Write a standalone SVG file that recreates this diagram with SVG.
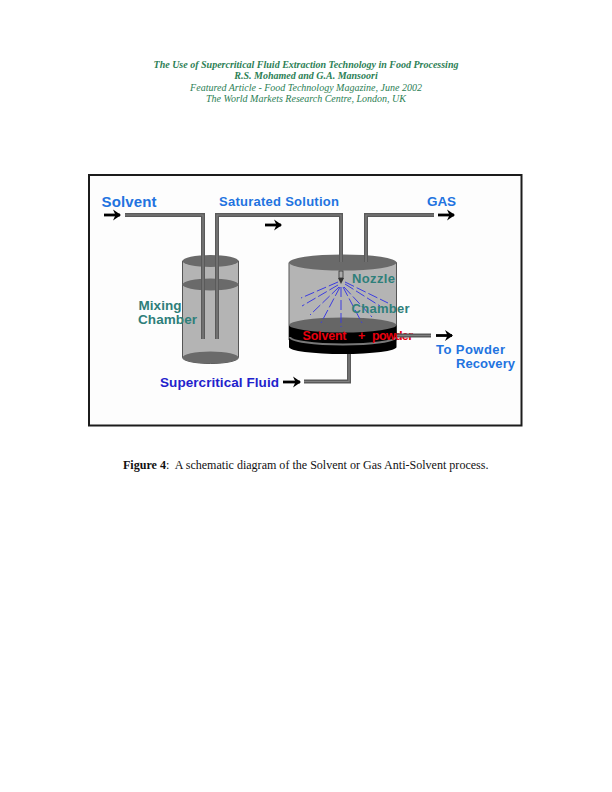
<svg xmlns="http://www.w3.org/2000/svg" width="612" height="792" viewBox="0 0 612 792">
<style>
.hd{font-family:"Liberation Serif","Times New Roman",serif;font-size:10px;fill:#2c8055;text-anchor:middle}
.b{font-weight:bold;font-style:italic}.i{font-style:italic}
.lb{font-family:"Liberation Sans",Arial,sans-serif;font-weight:bold}
.bl{fill:#2273e0}.tl{fill:#2f7f7a}.nv{fill:#2222cc}
.pipe{fill:none;stroke:#5a5a5a;stroke-width:4;stroke-linejoin:miter}
.core{fill:none;stroke:#808080;stroke-width:1.200}
.arr{stroke:#000;stroke-width:2.800;fill:none;marker-end:url(#ah)}
.sp{stroke:#3c3ce0;stroke-width:1;fill:none;stroke-dasharray:10 3}
.cyl{fill:#b4b4b4;stroke:#555;stroke-width:1}
.lid{fill:#6a6a6a}
</style>
<defs><marker id="ah" markerUnits="userSpaceOnUse" markerWidth="10" markerHeight="12" refX="8" refY="6" orient="auto"><path d="M1 0.500L9 6L1 11.500L3.500 6Z" fill="#000"/></marker></defs>
<rect width="612" height="792" fill="#fff"/>
<g id="header">
<text class="hd b" x="306" y="68">The Use of Supercritical Fluid Extraction Technology in Food Processing</text>
<text class="hd b" x="306" y="79">R.S. Mohamed and G.A. Mansoori</text>
<text class="hd i" x="306" y="91">Featured Article - Food Technology Magazine, June 2002</text>
<text class="hd i" x="306" y="102">The World Markets Research Centre, London, UK</text>
</g>
<rect id="frame" x="89" y="175" width="432.500" height="250.500" fill="#fdfdfd" stroke="#1c1c1c" stroke-width="2"/>
<g id="mixing-chamber">
<path class="cyl" d="M182.500 261V357.500A28 6 0 0 0 238.500 357.500V261Z"/>
<ellipse class="lid" cx="210.500" cy="357.500" rx="28" ry="6" fill="#7a7a7a"/>
<ellipse class="lid" cx="210.500" cy="284.500" rx="28" ry="6"/>
<ellipse class="lid" cx="210.500" cy="261" rx="28" ry="6"/>
<text class="lb tl" x="138.500" y="310" font-size="13.500" textLength="43">Mixing</text>
<text class="lb tl" x="138" y="324" font-size="13.500" textLength="59">Chamber</text>
</g>
<g id="spray-chamber">
<path class="cyl" d="M289 262.500V340H396.500V262.500Z"/>
<path d="M289 325V347A53.750 7 0 0 0 396.500 347V325Z" fill="#000"/>
<path d="M290 337A53 7.500 0 0 0 396 337" fill="none" stroke="#777" stroke-width="2"/>
<ellipse cx="342.750" cy="325" rx="53.750" ry="7.500" fill="#666"/>
<ellipse class="lid" cx="342.750" cy="262.500" rx="53.750" ry="8"/>
<g id="spray">
<path class="sp" d="M338 282L301 298"/><path class="sp" d="M338 285L302 306"/>
<path class="sp" d="M339 287L310 315"/><path class="sp" d="M340 287L321 323"/>
<path class="sp" d="M341 287V327"/>
<path class="sp" d="M343 287L362 323"/><path class="sp" d="M344 287L372 317"/>
<path class="sp" d="M345 284L380 306"/><path class="sp" d="M345 282L388 303"/>
</g>
<rect x="339" y="271" width="4" height="7" fill="#aaa" stroke="#333" stroke-width="0.800"/>
<path d="M338 278H344L341 284Z" fill="#333"/>
<text class="lb tl" x="352" y="283" font-size="13" textLength="43">Nozzle</text>
<text class="lb tl" x="351.500" y="313" font-size="13" textLength="58">Chamber</text>
<text class="lb" x="302.500" y="339.500" font-size="12.500" fill="#e8000e" textLength="44">Solvent</text>
<text class="lb" x="358" y="339.500" font-size="12.500" fill="#e8000e">+</text>
<text class="lb" x="372" y="339.500" font-size="12.500" fill="#e8000e" textLength="41">powder</text>
</g>
<g id="connectors">
<path class="pipe" d="M125 215H203V339"/><path class="core" d="M125 215H203V339"/>
<path class="pipe" d="M217 339V215H341V262"/><path class="core" d="M217 339V215H341V262"/>
<path class="pipe" d="M366 262V215H434"/><path class="core" d="M366 262V215H434"/>
<path class="pipe" d="M397 335.500H431"/><path class="core" d="M397 335.500H431"/>
<path class="pipe" d="M349 354V381.500H304"/><path class="core" d="M349 354V381.500H304"/>
<path class="arr" d="M104 215H120"/><path class="arr" d="M265 225H281"/><path class="arr" d="M438 215H454"/>
<path class="arr" d="M436 335.500H452"/><path class="arr" d="M283 382H300"/>
</g>
<g id="labels">
<text class="lb bl" x="101.500" y="206.500" font-size="15" textLength="55">Solvent</text>
<text class="lb bl" x="219" y="205.500" font-size="13" textLength="120">Saturated Solution</text>
<text class="lb bl" x="427" y="206" font-size="13.500" textLength="29">GAS</text>
<text class="lb bl" x="436" y="354" font-size="13" textLength="69">To Powder</text>
<text class="lb bl" x="456" y="368" font-size="13" textLength="59">Recovery</text>
<text class="lb nv" x="160" y="386.500" font-size="13.500" textLength="119">Supercritical Fluid</text>
</g>
<text id="caption" x="123" y="469" font-family="Liberation Serif,Times New Roman,serif" font-size="12.050" fill="#111"><tspan font-weight="bold">Figure 4</tspan>:&#160; A schematic diagram of the Solvent or Gas Anti-Solvent process.</text>
</svg>
